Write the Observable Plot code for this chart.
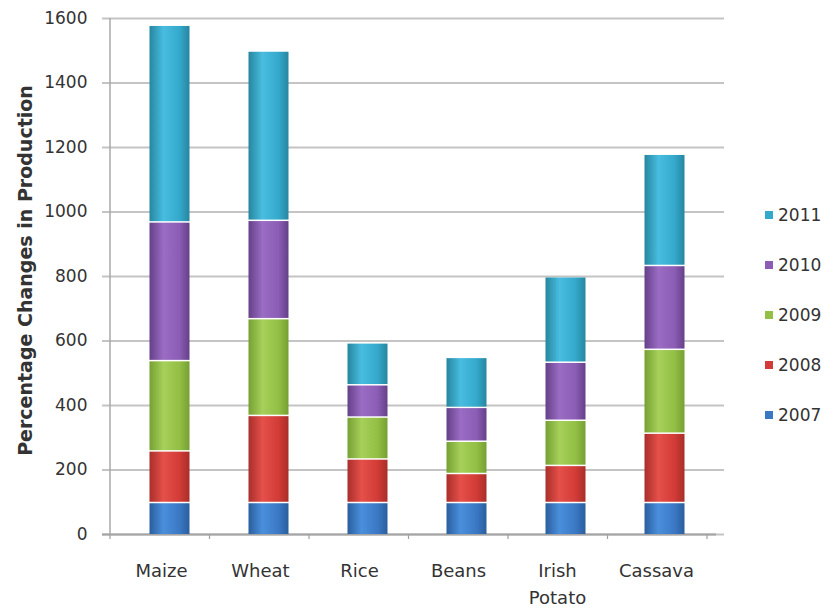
<!DOCTYPE html>
<html>
<head>
<meta charset="utf-8">
<script src="https://cdn.jsdelivr.net/npm/d3@7"></script>
<script src="https://cdn.jsdelivr.net/npm/@observablehq/plot@0.6"></script>
<style>
  body { margin: 0; background: #fff; }
  #wrap { position: relative; width: 831px; height: 614px; font-family: "DejaVu Sans", sans-serif; color: #333; }
  #legend { position: absolute; left: 765px; top: 190px; }
  .item { display: flex; align-items: center; height: 50px; font-size: 17px; color: #333; }
  .sw { width: 8px; height: 8px; margin-right: 5px; }
</style>
</head>
<body>
<div id="wrap"><div id="chart"></div><div id="legend"></div></div>
<script>
const crops = ["Maize", "Wheat", "Rice", "Beans", "Irish\nPotato", "Cassava"];
const years = ["2007", "2008", "2009", "2010", "2011"];
const v2007 = [100, 100, 100, 100, 100, 100];
const v2008 = [160, 270, 135, 90, 115, 215];
const v2009 = [280, 300, 130, 100, 140, 260];
const v2010 = [430, 305, 100, 105, 180, 260];
const v2011 = [610, 525, 130, 155, 265, 345];
const yTicks = [0, 200, 400, 600, 800, 1000, 1200, 1400, 1600];
const yTitle = "Percentage Changes in Production";

// colors per year: [edge dark, light center, base]
const colors = {
  "2007": ["#2a5e9e", "#4a8fdc", "#3b78c4"],
  "2008": ["#a92e2a", "#e5504a", "#d23b36"],
  "2009": ["#76a032", "#a6d05a", "#93bf45"],
  "2010": ["#654089", "#9a6cc4", "#8b5db5"],
  "2011": ["#26869f", "#48bde0", "#34a9cc"]
};

const series = [v2007, v2008, v2009, v2010, v2011];
const rows = [];
crops.forEach((c, i) => {
  years.forEach((y, j) => rows.push({crop: c, year: y, value: series[j][i]}));
});

const gradId = y => "grad" + y;

const axisDecor = (index, scales, values, dims) => {
  const g = d3.create("svg:g");
  const left = dims.marginLeft, right = dims.width - dims.marginRight;
  const top = dims.marginTop, bottom = dims.height - dims.marginBottom;
  g.append("line").attr("x1", left).attr("x2", left).attr("y1", top).attr("y2", bottom + 1)
    .attr("stroke", "#a8a8a8").attr("stroke-width", 1.5);
  const step = (right - left) / crops.length;
  for (let i = 0; i <= crops.length; i++) {
    g.append("line").attr("x1", left + i * step).attr("x2", left + i * step)
      .attr("y1", bottom).attr("y2", bottom + 5).attr("stroke", "#a0a0a0").attr("stroke-width", 1.2);
  }
  return g.node();
};

const chart = Plot.plot({
  width: 831,
  height: 614,
  marginLeft: 110,
  marginRight: 124,
  marginTop: 18,
  marginBottom: 80,
  style: {fontFamily: "DejaVu Sans, sans-serif", fontSize: "17px", color: "#333", background: "white"},
  x: {domain: crops, paddingInner: 0.6, paddingOuter: 0.3, label: null},
  y: {domain: [0, 1600], label: null},
  color: {domain: years, range: years.map(y => `url(#${gradId(y)})`)},
  marks: [
    Plot.gridY(yTicks, {stroke: "#c4c4c4", strokeOpacity: 1, strokeWidth: 2, insetLeft: -8, insetRight: -17}),
    Plot.ruleY([0], {stroke: "#a4a4a4", strokeWidth: 2, insetLeft: -8, insetRight: -9}),
    axisDecor,
    Plot.barY(rows, Plot.stackY({x: "crop", y: "value", fill: "year", insetTop: 1.5, dx: 8.5})),
    Plot.axisY(yTicks, {tickSize: 0, tickPadding: 23, fontSize: 17, label: null, fill: "#333", tickFormat: d => String(d)}),
    Plot.axisX({tickSize: 0, tickPadding: 23, fontSize: 18, lineHeight: 1.5, label: null, fill: "#333"}),
    Plot.text([yTitle], {frameAnchor: "left", textAnchor: "middle", rotate: -90, dx: -85, dy: -6, fontWeight: "bold", fontSize: 19, fill: "#333"})
  ]
});

const defs = d3.select(chart).insert("defs", ":first-child");
years.forEach(y => {
  const [dark, light, base] = colors[y];
  const lg = defs.append("linearGradient").attr("id", gradId(y)).attr("x1", 0).attr("x2", 1).attr("y1", 0).attr("y2", 0);
  lg.append("stop").attr("offset", "0%").attr("stop-color", dark);
  lg.append("stop").attr("offset", "35%").attr("stop-color", light);
  lg.append("stop").attr("offset", "75%").attr("stop-color", base);
  lg.append("stop").attr("offset", "100%").attr("stop-color", dark);
});

document.getElementById("chart").appendChild(chart);

const legend = d3.select("#legend");
years.slice().reverse().forEach(y => {
  const it = legend.append("div").attr("class", "item");
  it.append("div").attr("class", "sw").style("background", colors[y][2]);
  it.append("span").text(y);
});
</script>
</body>
</html>
